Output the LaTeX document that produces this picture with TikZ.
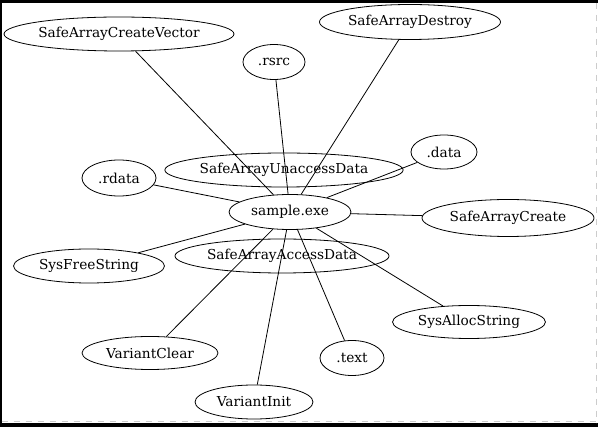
\documentclass[tikz,border=0pt]{standalone}
\usepackage{fontspec}
\setmainfont{DejaVu Serif}
\usetikzlibrary{shapes.geometric}
\begin{document}
\begin{tikzpicture}[x=1pt,y=-1pt,
  ell/.style={ellipse, draw, line width=0.8pt, inner sep=0pt, font=\fontsize{13.7}{16}\selectfont},
  edge/.style={draw, line width=0.8pt}]
\useasboundingbox (0,0) rectangle (598,427);
\fill[white] (0,0) rectangle (598,427);
% frame
\fill[black] (0,0) rectangle (598,3);
\fill[black] (0,0) rectangle (1.5,427);
\fill[black] (0,423) rectangle (598,427);
\draw[gray!40, line width=1pt, dash pattern=on 6pt off 6pt] (596.5,3) -- (596.5,423);
\draw[gray!40, line width=1pt, dash pattern=on 6pt off 6pt] (1.5,422) -- (596,422);
% nodes
\node[ell, minimum width=230, minimum height=34] (scv) at (119,34) {SafeArrayCreateVector};
\node[ell, minimum width=181, minimum height=35] (sad) at (410,22) {SafeArrayDestroy};
\node[ell, minimum width=62, minimum height=35] (rsrc) at (274,62) {.rsrc};
\node[ell, minimum width=66, minimum height=34] (data) at (444,152) {.data};
\node[ell, minimum width=74, minimum height=36] (rdata) at (119,178) {.rdata};
\node[ell, minimum width=237, minimum height=34] (sau) at (284,170) {SafeArrayUnaccessData};
\node[ell, minimum width=122, minimum height=35] (exe) at (290,212) {sample.exe};
\node[ell, minimum width=172, minimum height=37] (sac) at (508,218) {SafeArrayCreate};
\node[ell, minimum width=151, minimum height=34] (sfs) at (89,266) {SysFreeString};
\node[ell, minimum width=214, minimum height=34] (saa) at (282,256) {SafeArrayAccessData};
\node[ell, minimum width=153, minimum height=33] (sas) at (469,322) {SysAllocString};
\node[ell, minimum width=136, minimum height=33] (vc) at (150,353) {VariantClear};
\node[ell, minimum width=64, minimum height=35] (text) at (352,358) {.text};
\node[ell, minimum width=118, minimum height=34] (vi) at (254,402) {VariantInit};
% edges
\foreach \t in {scv,sad,rsrc,data,rdata,sac,sfs,sas,vc,text,vi}
  \draw[edge] (exe) -- (\t);
\end{tikzpicture}
\end{document}
